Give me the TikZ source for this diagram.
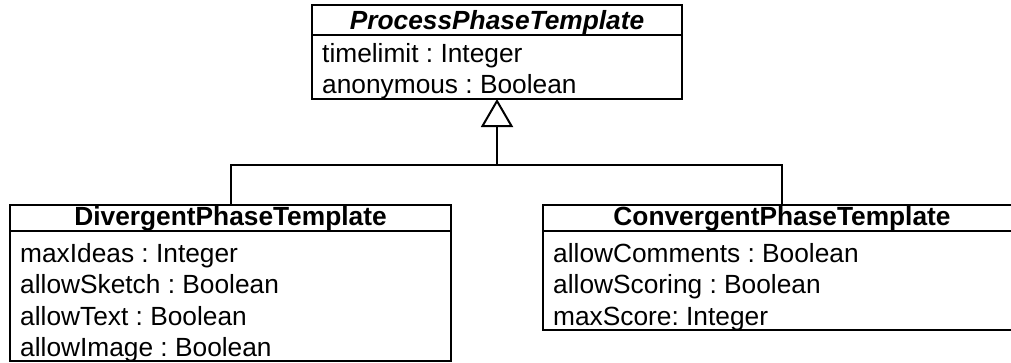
\documentclass[tikz,border=0pt]{standalone}
\usepackage{fontspec}
\setmainfont{Liberation Sans}
\usetikzlibrary{arrows.meta}
\frenchspacing

\tikzset{
  classbox/.style={draw, line width=2pt, fill=white, inner sep=0pt, outer sep=0pt, rectangle},
  rowline/.style={line width=2pt},
  attr/.style={anchor=base west, inner sep=0pt, font=\fontsize{26.3}{31}\selectfont},
  title/.style={anchor=base, inner sep=0pt, font=\fontsize{26.3}{31}\selectfont\bfseries},
  link/.style={line width=2pt},
  gen/.style={link, -{Triangle[open, length=28pt, width=32pt, line width=2pt]}}
}

\begin{document}
\begin{tikzpicture}[x=1pt, y=-1pt]
  \useasboundingbox (0,0) rectangle (1011,362);
  \clip (0,0) rectangle (1011,362);
  \fill[white] (0,0) rectangle (1011,362);

  % abstract parent class
  \node[classbox, minimum width=370pt, minimum height=94pt] (proc) at (497,52) {};
  \draw[rowline] ([yshift=-29.5pt]proc.north west) -- ([yshift=-29.5pt]proc.north east);
  \node[title, font=\fontsize{26.3}{31}\selectfont\bfseries\itshape] (procname) at (497,29.5) {ProcessPhaseTemplate};
  \node[attr] (proc1) at (322,62) {timelimit : Integer};
  \node[attr] (proc2) at (322,93.5) {anonymous : Boolean};

  % divergent subclass
  \node[classbox, minimum width=441pt, minimum height=156pt] (div) at (230.5,283) {};
  \draw[rowline] ([yshift=-26pt]div.north west) -- ([yshift=-26pt]div.north east);
  \node[title] (divname) at (230.5,225) {DivergentPhaseTemplate};
  \node[attr] (div1) at (20,262) {maxIdeas : Integer};
  \node[attr] (div2) at (20,293.5) {allowSketch : Boolean};
  \node[attr] (div3) at (20,325) {allowText : Boolean};
  \node[attr] (div4) at (20,356) {allowImage : Boolean};

  % convergent subclass
  \node[classbox, minimum width=478pt, minimum height=125pt] (conv) at (782,267.5) {};
  \draw[rowline] ([yshift=-26pt]conv.north west) -- ([yshift=-26pt]conv.north east);
  \node[title] (convname) at (782,225) {ConvergentPhaseTemplate};
  \node[attr] (conv1) at (553,262) {allowComments : Boolean};
  \node[attr] (conv2) at (553,293.5) {allowScoring : Boolean};
  \node[attr] (conv3) at (553,325) {maxScore: Integer};

  % generalization
  \coordinate (split) at (497,165);
  \draw[gen] (split) -- (proc.south);
  \draw[link] (div.north) |- (split) -| (conv.north);
\end{tikzpicture}
\end{document}
